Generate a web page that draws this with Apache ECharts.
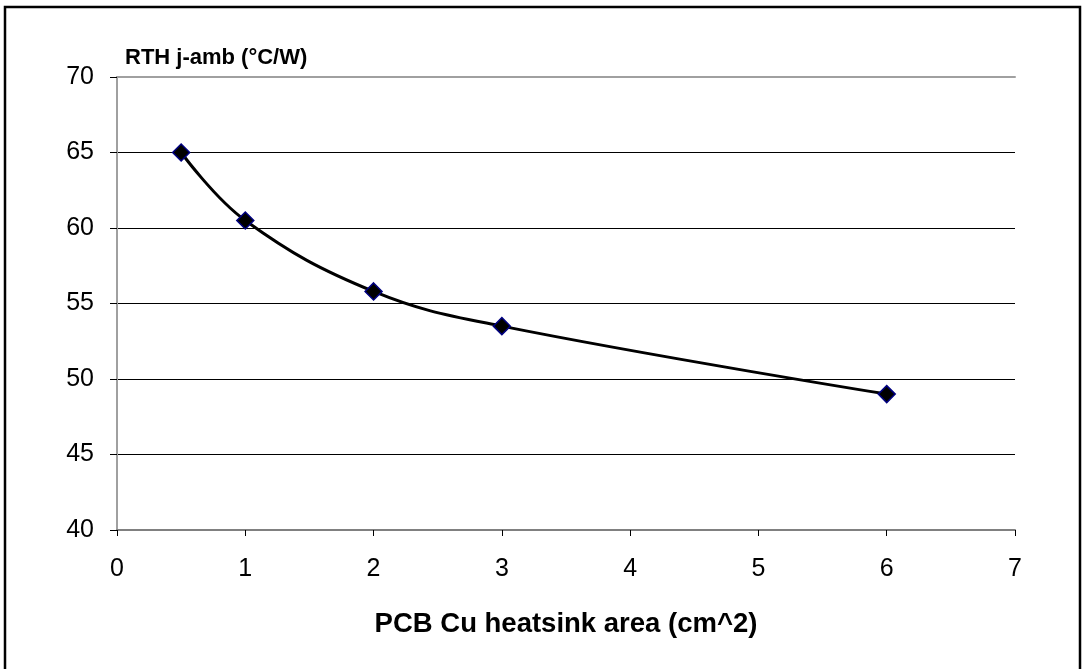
<!DOCTYPE html>
<html>
<head>
<meta charset="utf-8">
<script src="https://cdn.jsdelivr.net/npm/echarts@6/dist/echarts.min.js"></script>
<style>
    html, body { margin: 0; padding: 0; background: #fff; }
    #chart { width: 1082px; height: 669px; }
</style>
</head>
<body>
<div id="chart"></div>
<script>
// PCB copper area (cm^2) vs thermal resistance junction-ambient (°C/W)
var areaValues = [0.5, 1, 2, 3, 6];
var rthValues = [65, 60.5, 55.8, 53.5, 49];
var xTicks = [0, 7, 1];
var yTicks = [40, 70, 5];

var points = [];
for (var i = 0; i < areaValues.length; i++) {
    points.push([areaValues[i], rthValues[i]]);
}

var dom = document.getElementById("chart");
var myChart = echarts.init(dom);

var font = 'Liberation Sans, Arial, sans-serif';

var option = {
    animation: false,
    backgroundColor: '#ffffff',
    graphic: [
        {
            type: 'rect',
            shape: { x: 5, y: 7, width: 1075, height: 700 },
            style: { fill: 'none', stroke: '#000', lineWidth: 2.5 },
            z: -1
        }
    ],
    grid: {
        left: 117,
        right: 67,
        top: 77,
        bottom: 139
    },
    xAxis: [
        {
            type: 'value',
            min: xTicks[0],
            max: xTicks[1],
            interval: xTicks[2],
            name: 'PCB Cu heatsink area (cm^2)',
            nameLocation: 'middle',
            nameGap: 80,
            nameTextStyle: {
                fontFamily: font,
                fontSize: 27.5,
                fontWeight: 'bold',
                color: '#000'
            },
            axisLine: { lineStyle: { color: '#808080', width: 2 } },
            axisTick: { show: true, inside: false, length: 6, lineStyle: { color: '#000', width: 1 } },
            axisLabel: {
                fontFamily: font,
                fontSize: 25,
                color: '#000',
                margin: 27
            },
            splitLine: { show: false }
        },
        {
            type: 'value',
            position: 'top',
            min: xTicks[0],
            max: xTicks[1],
            axisLine: { show: true, lineStyle: { color: '#a0a0a0', width: 2 } },
            axisTick: { show: false },
            axisLabel: { show: false },
            splitLine: { show: false }
        }
    ],
    yAxis: [
        {
            type: 'value',
            min: yTicks[0],
            max: yTicks[1],
            interval: yTicks[2],
            name: 'RTH j-amb (°C/W)',
            nameLocation: 'end',
            nameGap: 8,
            nameTextStyle: {
                fontFamily: font,
                fontSize: 22,
                fontWeight: 'bold',
                color: '#000',
                align: 'left',
                padding: [0, 0, 0, 8]
            },
            axisLine: { show: true, lineStyle: { color: '#000', width: 1 } },
            axisTick: { show: true, inside: false, length: 7, lineStyle: { color: '#000', width: 1 } },
            axisLabel: {
                fontFamily: font,
                fontSize: 25,
                color: '#000',
                margin: 23
            },
            splitLine: { show: true, lineStyle: { color: '#000', width: 1 } }
        },
        {
            type: 'value',
            position: 'right',
            min: yTicks[0],
            max: yTicks[1],
            axisLine: { show: true, lineStyle: { color: '#a0a0a0', width: 2 } },
            axisTick: { show: false },
            axisLabel: { show: false },
            splitLine: { show: false }
        }
    ],
    series: [
        {
            type: 'line',
            data: points,
            smooth: 0.4,
            symbol: 'diamond',
            symbolSize: 17,
            lineStyle: { color: '#000', width: 3 },
            itemStyle: { color: '#000', borderColor: '#000080', borderWidth: 1.5 },
            z: 5
        }
    ]
};

if (option && typeof option === "object") {
    myChart.setOption(option, true);
}
</script>
</body>
</html>
